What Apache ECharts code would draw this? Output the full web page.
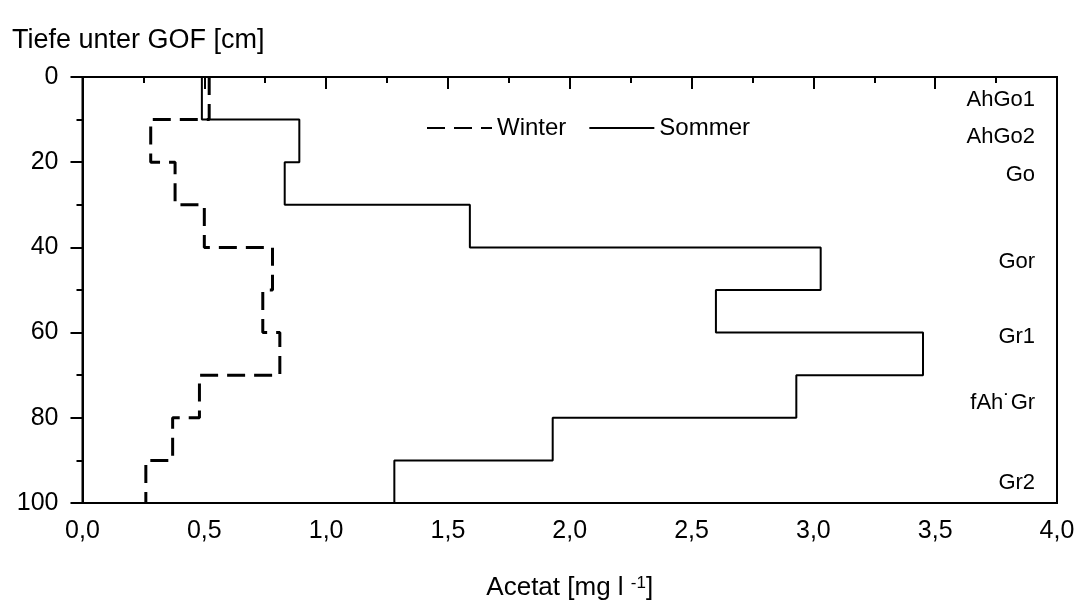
<!DOCTYPE html>
<html>
<head>
<meta charset="utf-8">
<script src="https://cdn.jsdelivr.net/npm/echarts@6/dist/echarts.min.js"></script>
<style>html,body{margin:0;padding:0;background:#fff;}#chart{width:1080px;height:604px;}</style>
</head>
<body>
<div id="chart"></div>
<script>
// Depth layers (cm)
const depthTop    = [0, 10, 20, 30, 40, 50, 60, 70, 80, 90];
const depthBottom = [10, 20, 30, 40, 50, 60, 70, 80, 90, 100];
// Acetate concentrations (mg/l)
const winter = [0.52, 0.28, 0.38, 0.50, 0.78, 0.74, 0.81, 0.48, 0.37, 0.26];
const sommer = [0.49, 0.89, 0.83, 1.59, 3.03, 2.60, 3.45, 2.93, 1.93, 1.28];
// Soil horizons
const horizonNames  = ['AhGo1', 'AhGo2', 'Go', 'Gor', 'Gr1', 'fAh\u02D9Gr', 'Gr2'];
const horizonDepths = [5.5, 14, 23, 43.4, 61, 76.5, 95.4];
const horizonX = 3.91;
const xTicks = { min: 0, max: 4, interval: 0.5 };
const yTicks = { min: 0, max: 100, interval: 20 };

const FONT = '"Liberation Sans", Arial, sans-serif';

function steps(vals) {
  const pts = [];
  vals.forEach((v, i) => { pts.push([v, depthTop[i]]); pts.push([v, depthBottom[i]]); });
  return pts;
}

const chart = echarts.init(document.getElementById('chart'));
chart.setOption({
  animation: false,
  textStyle: { fontFamily: FONT, color: '#000' },
  title: {
    text: 'Tiefe unter GOF [cm]', left: 7, top: 22,
    textStyle: { fontFamily: FONT, fontSize: 27, fontWeight: 'normal', color: '#000' }
  },
  grid: {
    left: 82.5, right: 23, top: 77, bottom: 101, containLabel: false, outerBoundsMode: 'none',
    show: true, borderColor: '#000', borderWidth: 2
  },
  legend: {
    data: ['Winter', 'Sommer'],
    left: 421, top: 111,
    itemWidth: 65, itemHeight: 20, itemGap: 22,
    itemStyle: { opacity: 0 },
    textStyle: { fontFamily: FONT, fontSize: 24, color: '#000' }
  },
  xAxis: {
    type: 'value', min: xTicks.min, max: xTicks.max, interval: xTicks.interval,
    name: 'Acetat [mg l {sup|-1}]', nameLocation: 'middle', nameGap: 72,
    nameTextStyle: {
      fontFamily: FONT, fontSize: 26, color: '#000',
      rich: { sup: { fontFamily: FONT, fontSize: 17, color: '#000', verticalAlign: 'top', lineHeight: 14, padding: [0, 0, 14, 0] } }
    },
    axisLine: { lineStyle: { color: '#000', width: 2 } },
    axisTick: { show: true, length: 12, inside: false, lineStyle: { color: '#000', width: 2 } },
    minorTick: { show: true, splitNumber: 2, length: 6, lineStyle: { color: '#000', width: 2 } },
    splitLine: { show: false },
    axisLabel: {
      fontFamily: FONT, fontSize: 25, color: '#000', margin: 16,
      formatter: v => v.toFixed(1).replace('.', ',')
    }
  },
  yAxis: {
    type: 'value', inverse: true, min: yTicks.min, max: yTicks.max, interval: yTicks.interval,
    axisLine: { lineStyle: { color: '#000', width: 2 } },
    axisTick: { show: true, length: 12, inside: false, lineStyle: { color: '#000', width: 2 } },
    minorTick: { show: true, splitNumber: 2, length: 6, lineStyle: { color: '#000', width: 2 } },
    splitLine: { show: false },
    axisLabel: { fontFamily: FONT, fontSize: 25, color: '#000', margin: 24 }
  },
  series: [
    {
      name: 'Winter', type: 'line', data: steps(winter), showSymbol: false, symbol: 'none',
      lineStyle: { color: '#000', width: 3, type: [18, 9] },
      itemStyle: { color: '#000' }
    },
    {
      name: 'Sommer', type: 'line', data: steps(sommer), showSymbol: false, symbol: 'none',
      lineStyle: { color: '#000', width: 2, type: 'solid' },
      itemStyle: { color: '#000' }
    },
    {
      name: 'Horizonte', type: 'scatter', silent: true,
      data: horizonNames.map((n, i) => ({ name: n, value: [horizonX, horizonDepths[i]] })),
      symbol: 'circle', symbolSize: 0.001, itemStyle: { color: '#000', opacity: 1 },
      label: {
        show: true, position: 'left', distance: 0, formatter: p => p.name,
        fontFamily: FONT, fontSize: 22, color: '#000', opacity: 1
      }
    }
  ]
});
</script>
</body>
</html>
